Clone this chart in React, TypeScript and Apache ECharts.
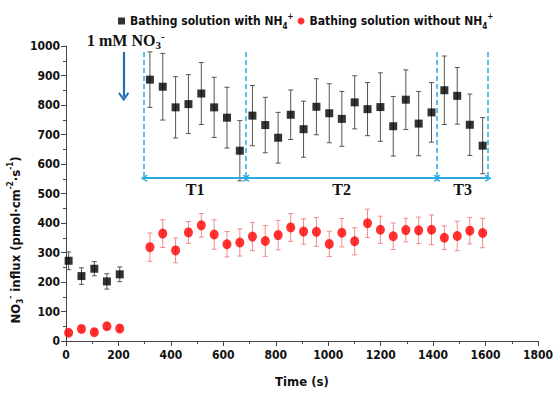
import React, { useEffect, useRef } from 'react';
import * as echarts from 'echarts';

// ---------- data ----------
const times = [10, 59, 108, 156, 205,
  320, 369, 418, 467, 516, 565, 614, 663, 711, 760, 809, 857, 906, 955,
  1004, 1052, 1101, 1150, 1199, 1248, 1296, 1345, 1394, 1443, 1492, 1540, 1589];

const withNH4 = [272, 220, 245, 202, 226,
  886, 862, 792, 803, 839, 792, 757, 645, 764, 732, 689, 767, 718, 794,
  772, 753, 809, 786, 793, 728, 818, 737, 775, 850, 831, 733, 662];
const withNH4Err = [30, 28, 24, 26, 25,
  94, 113, 104, 100, 105, 102, 103, 102, 102, 94, 86, 84, 95, 95,
  100, 93, 90, 90, 116, 101, 101, 109, 101, 116, 96, 104, 95];

const withoutNH4 = [28, 41, 30, 50, 42,
  318, 364, 307, 368, 392, 361, 328, 334, 354, 339, 359, 385, 371, 370,
  329, 367, 338, 399, 377, 355, 376, 375, 377, 350, 356, 374, 366];
const withoutNH4Err = [8, 8, 8, 8, 8,
  48, 47, 42, 37, 40, 50, 43, 46, 48, 52, 50, 47, 43, 49,
  43, 48, 46, 48, 46, 45, 40, 45, 50, 40, 50, 45, 50];

const periodBounds = [298, 687, 1415, 1610];
const periodLabels = ['T1', 'T2', 'T3'];
const dashTop = 980;
const dashBottom = 546;
const arrowY = 552;
const periodLabelY = 512;
const additionTime = 220;
const additionArrow = [980, 828];

const S1 = 'Bathing solution with NH4+';
const S2 = 'Bathing solution without NH4+';

const SANS = "'Liberation Sans Narrow', 'DejaVu Sans Condensed', 'Liberation Sans', Arial, sans-serif";
const SERIF = "'Liberation Serif', 'DejaVu Serif', 'Times New Roman', serif";
const CHEVRON = 'path://M5,0 L10,7 L8.6,8.2 L5,3.2 L1.4,8.2 L0,7 Z';

function errorSeries(vals: number[], errs: number[], color: string, z: number) {
  return {
    type: 'custom',
    silent: true,
    z,
    data: times.map((t, i) => [t, vals[i], errs[i]]),
    encode: { x: 0, y: 1 },
    renderItem: (params: any, api: any) => {
      const x = api.value(0);
      const y = api.value(1);
      const e = api.value(2);
      const top = api.coord([x, y + e]);
      const bot = api.coord([x, y - e]);
      const c = 2.5;
      const style = { stroke: color, lineWidth: 1 };
      return {
        type: 'group',
        children: [
          { type: 'line', shape: { x1: top[0], y1: top[1], x2: bot[0], y2: bot[1] }, style },
          { type: 'line', shape: { x1: top[0] - c, y1: top[1], x2: top[0] + c, y2: top[1] }, style },
          { type: 'line', shape: { x1: bot[0] - c, y1: bot[1], x2: bot[0] + c, y2: bot[1] }, style },
        ],
      };
    },
  };
}

export default function App() {
  const ref = useRef<HTMLDivElement>(null);
  useEffect(() => {
    if (!ref.current) return;
    const chart = echarts.init(ref.current, null, { renderer: 'svg' });
    const blue = '#2aa9e0';
    const richSmall = {
      sub: { fontSize: 8, fontFamily: SANS, fontWeight: 'bold', color: '#111', verticalAlign: 'bottom', lineHeight: 18, padding: [6, 0, 0, 0] },
      sup: { fontSize: 8, fontFamily: SANS, fontWeight: 'bold', color: '#111', verticalAlign: 'top', lineHeight: 18, padding: [0, 0, 6, 0] },
    };
    const periods = periodLabels.map((l, i) => ({ label: l, start: periodBounds[i], end: periodBounds[i + 1] }));

    const option: any = {
      animation: false,
      backgroundColor: '#fff',
      grid: { left: 66, right: 10, top: 46, bottom: 51 },
      legend: {
        left: 113,
        top: 7,
        itemWidth: 7,
        itemHeight: 7,
        itemGap: 4,
        data: [{ name: S1, icon: 'rect' }, { name: S2, icon: 'circle' }],
        formatter: (n: string) =>
          n === S1 ? 'Bathing solution with NH{sub|4}{sup|+}' : 'Bathing solution without NH{sub|4}{sup|+}',
        textStyle: { fontFamily: SANS, fontWeight: 'bold', fontSize: 12, color: '#111', rich: richSmall },
      },
      xAxis: {
        type: 'value',
        min: 0,
        max: 1800,
        interval: 200,
        name: 'Time (s)',
        nameLocation: 'middle',
        nameGap: 34,
        nameTextStyle: { fontFamily: SANS, fontWeight: 'bold', fontSize: 13, color: '#111' },
        axisLine: { lineStyle: { color: '#444', width: 1 } },
        axisTick: { length: 5, lineStyle: { color: '#444' } },
        minorTick: { show: true, splitNumber: 2, length: 3, lineStyle: { color: '#444' } },
        axisLabel: { fontFamily: SANS, fontWeight: 'bold', fontSize: 12, color: '#111', margin: 8, formatter: (v: number) => String(v) },
        splitLine: { show: false },
      },
      yAxis: {
        type: 'value',
        min: 0,
        max: 1000,
        interval: 100,
        axisLine: { show: true, lineStyle: { color: '#444', width: 1 } },
        axisTick: { show: true, length: 5, lineStyle: { color: '#444' } },
        minorTick: { show: true, splitNumber: 2, length: 3, lineStyle: { color: '#444' } },
        axisLabel: { fontFamily: SANS, fontWeight: 'bold', fontSize: 12, color: '#111', margin: 6, formatter: (v: number) => String(v) },
        splitLine: { show: false },
      },
      graphic: [
        {
          type: 'text',
          left: 87,
          top: 30,
          style: {
            text: '1 mM NO{s|3}{p|-}',
            fontFamily: SERIF,
            fontWeight: 'bold',
            fontSize: 16,
            fill: '#111',
            rich: {
              s: { fontFamily: SERIF, fontWeight: 'bold', fontSize: 11, verticalAlign: 'bottom', lineHeight: 20, padding: [7, 0, 0, 0], color: '#111' },
              p: { fontFamily: SERIF, fontWeight: 'bold', fontSize: 11, verticalAlign: 'top', lineHeight: 20, padding: [0, 0, 8, 0], color: '#111' },
            },
          },
        },
        {
          type: 'text',
          x: 15,
          y: 240,
          rotation: Math.PI / 2,
          style: {
            text: 'NO{sub|3}{sup|-} influx (pmol·cm{sup|-2}·s{sup|-1})',
            fontFamily: SANS,
            fontWeight: 'bold',
            fontSize: 13,
            fill: '#111',
            align: 'center',
            verticalAlign: 'middle',
            rich: richSmall,
          },
        },
      ],
      series: [
        errorSeries(withNH4, withNH4Err, '#555', 2),
        errorSeries(withoutNH4, withoutNH4Err, '#f08a8a', 2),
        {
          type: 'scatter',
          name: S1,
          symbol: 'rect',
          symbolSize: 8,
          z: 5,
          itemStyle: { color: '#000' },
          data: times.map((t, i) => [t, withNH4[i]]),
          markLine: {
            silent: true,
            animation: false,
            symbol: ['none', 'none'],
            label: { show: false },
            emphasis: { disabled: true },
            data: [
              ...periodBounds.map((b) => [
                { coord: [b, dashTop], lineStyle: { type: [5, 3], color: blue, width: 1.5 } },
                { coord: [b, dashBottom] },
              ]),
              ...periods.map((p) => [
                { coord: [p.start, arrowY], symbol: CHEVRON, symbolSize: [7, 7], lineStyle: { type: 'solid', color: blue, width: 2 } },
                { coord: [p.end, arrowY], symbol: CHEVRON, symbolSize: [7, 7] },
              ]),
              [
                { coord: [additionTime, additionArrow[0]], lineStyle: { type: 'solid', color: '#1f6db5', width: 2.2 } },
                { coord: [additionTime, additionArrow[1]], symbol: CHEVRON, symbolSize: [11, 9] },
              ],
            ],
          },
          markPoint: {
            silent: true,
            symbol: 'rect',
            symbolSize: 1,
            itemStyle: { color: 'rgba(0,0,0,0)' },
            label: {
              show: true,
              position: 'inside',
              formatter: '{b}',
              fontFamily: SERIF,
              fontWeight: 'bold',
              fontSize: 16,
              color: '#111',
            },
            data: periods.map((p) => ({ name: p.label, coord: [(p.start + p.end) / 2, periodLabelY] })),
          },
        },
        {
          type: 'scatter',
          name: S2,
          symbol: 'circle',
          symbolSize: [9, 10],
          z: 5,
          itemStyle: { color: '#ff0000' },
          data: times.map((t, i) => [t, withoutNH4[i]]),
        },
      ],
    };
    chart.setOption(option);
    return () => chart.dispose();
  }, []);
  return <div ref={ref} style={{ position: 'absolute', left: 0, top: 0, width: 556, height: 393 }} />;
}
